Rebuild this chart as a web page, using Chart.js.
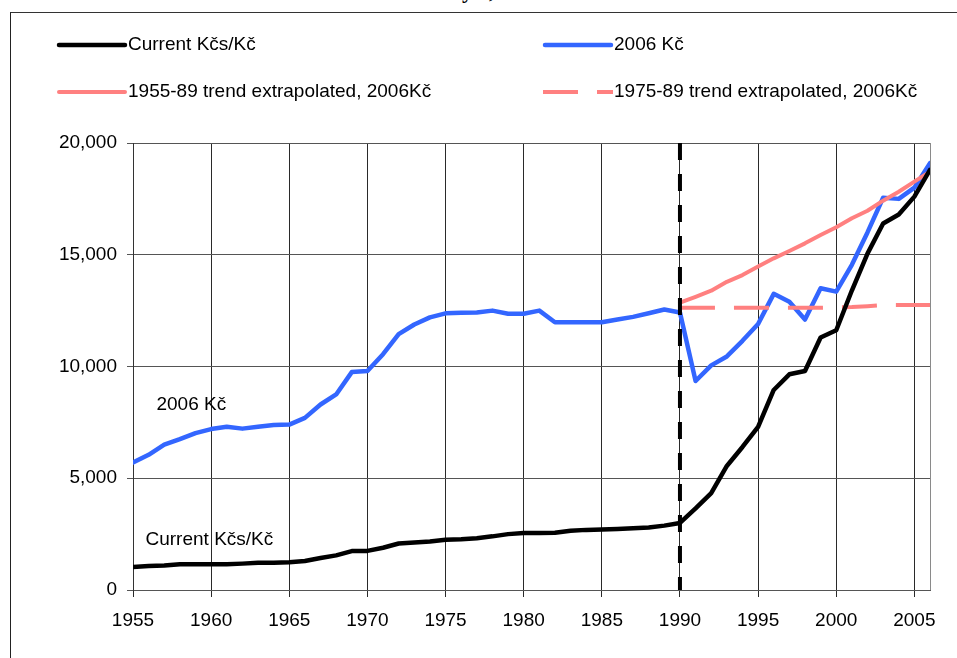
<!DOCTYPE html>
<html>
<head>
<meta charset="utf-8">
<script src="https://cdn.jsdelivr.net/npm/chart.js@4.4.0/dist/chart.umd.min.js"></script>
<style>
  html, body { margin: 0; padding: 0; background: #fff; overflow: hidden; }
  #wrap { position: relative; width: 957px; height: 658px; overflow: hidden; }
  #frame { position: absolute; left: 10px; top: 12px; width: 1200px; height: 900px;
           border-left: 1px solid #222; border-top: 1px solid #333; }
  #cut { position: absolute; left: 462px; top: -20px; font: bold 22px "Liberation Serif", serif;
         line-height: 22px; color: #000; white-space: pre; }
  canvas { position: absolute; left: 0; top: 0; }
</style>
</head>
<body>
<div id="wrap">
  <div id="frame"></div>
  <div id="cut">y<span style="margin-left:16px">,</span></div>
  <canvas id="wageChart" width="957" height="658"></canvas>
</div>
<script>
// years on the x axis
const years = [1955, 1956, 1957, 1958, 1959, 1960, 1961, 1962, 1963, 1964,
               1965, 1966, 1967, 1968, 1969, 1970, 1971, 1972, 1973, 1974,
               1975, 1976, 1977, 1978, 1979, 1980, 1981, 1982, 1983, 1984,
               1985, 1986, 1987, 1988, 1989, 1990, 1991, 1992, 1993, 1994,
               1995, 1996, 1997, 1998, 1999, 2000, 2001, 2002, 2003, 2004,
               2005, 2006];

// wage in current Kčs/Kč
const currentKcs = [1030, 1070, 1100, 1150, 1150, 1150, 1150, 1180, 1220, 1220,
                    1240, 1300, 1430, 1550, 1740, 1750, 1890, 2080, 2120, 2170,
                    2250, 2270, 2320, 2400, 2500, 2550, 2550, 2560, 2650, 2690,
                    2710, 2730, 2760, 2800, 2880, 3000, 3650, 4330, 5550, 6400,
                    7300, 8950, 9650, 9800, 11300, 11620, 13400, 15050, 16400, 16800,
                    17600, 18800];

// wage in 2006 Kč
const real2006 = [5700, 6050, 6500, 6750, 7020, 7200, 7300, 7220, 7300, 7380,
                  7400, 7700, 8300, 8750, 9750, 9800, 10550, 11450, 11880, 12200,
                  12380, 12400, 12420, 12500, 12360, 12360, 12500, 11980, 11980, 11980,
                  11980, 12100, 12220, 12380, 12550, 12420, 9350, 10050, 10450, 11150,
                  11900, 13250, 12900, 12100, 13500, 13350, 14550, 16000, 17550, 17500,
                  18000, 19100];

// extrapolated trends, 1990-2006
const trendYears = [1990, 1991, 1992, 1993, 1994, 1995, 1996, 1997, 1998,
                    1999, 2000, 2001, 2002, 2003, 2004, 2005, 2006];
const trend5589 = [12860, 13120, 13390, 13790, 14090, 14470, 14840, 15170, 15510,
                   15880, 16230, 16630, 16970, 17420, 17820, 18270, 18720];
const trend7589 = [12630, 12630, 12630, 12630, 12630, 12630, 12630, 12630, 12630,
                   12630, 12640, 12660, 12700, 12750, 12750, 12750, 12750];

// 1989 break marker
const markerYears = [1990, 1990];
const markerValues = [20000, 0];

// text written inside the plot
const seriesNotes = [
  { text: '2006 Kč', year: 1956.5, value: 8280 },
  { text: 'Current Kčs/Kč', year: 1955.8, value: 2240 }
];

const xTicks = [1955, 1960, 1965, 1970, 1975, 1980, 1985, 1990, 1995, 2000, 2005];

function toPoints(xs, ys) {
  return xs.map((x, i) => ({ x: x, y: ys[i] }));
}

const FONT = '"Liberation Sans", Arial, sans-serif';
Chart.defaults.font.family = FONT;
Chart.defaults.font.size = 19;
Chart.defaults.color = '#000';

// legend in two columns above the plot
const legendOrder = [0, 4, 2, 3];
const gridLegend = {
  id: 'gridLegend',
  afterDraw(chart) {
    const ctx = chart.ctx;
    const cols = [57, 543];
    const rows = [45, 92];
    legendOrder.forEach((dsIndex, i) => {
      const ds = chart.data.datasets[dsIndex];
      const x = cols[i % 2];
      const y = rows[Math.floor(i / 2)];
      ctx.save();
      ctx.strokeStyle = ds.borderColor;
      ctx.lineWidth = ds.borderWidth;
      if (ds.borderDash) {
        ctx.setLineDash(ds.borderDash);
        ctx.lineCap = 'butt';
        ctx.beginPath(); ctx.moveTo(x, y); ctx.lineTo(x + 70, y); ctx.stroke();
      } else {
        ctx.lineCap = 'round';
        ctx.beginPath(); ctx.moveTo(x + 2, y); ctx.lineTo(x + 68, y); ctx.stroke();
      }
      ctx.setLineDash([]);
      ctx.fillStyle = '#000';
      ctx.font = '19px ' + FONT;
      ctx.textBaseline = 'middle';
      ctx.textAlign = 'left';
      ctx.fillText(ds.label, x + 71, y);
      ctx.restore();
    });
  }
};

const noteLabels = {
  id: 'noteLabels',
  afterDatasetsDraw(chart) {
    const ctx = chart.ctx;
    const xs = chart.scales.x, ys = chart.scales.y;
    ctx.save();
    ctx.fillStyle = '#000';
    ctx.font = '19px ' + FONT;
    ctx.textBaseline = 'middle';
    ctx.textAlign = 'left';
    seriesNotes.forEach(n => {
      ctx.fillText(n.text, xs.getPixelForValue(n.year), ys.getPixelForValue(n.value));
    });
    ctx.restore();
  }
};

new Chart(document.getElementById('wageChart'), {
  type: 'line',
  data: {
    datasets: [
      {
        label: 'Current Kčs/Kč',
        data: toPoints(years, currentKcs),
        borderColor: '#000000',
        borderWidth: 4.5
      },
      {
        label: '1989',
        data: toPoints(markerYears, markerValues),
        borderColor: '#000000',
        borderWidth: 4,
        borderDash: [17, 14],
        borderCapStyle: 'butt'
      },
      {
        label: '1955-89 trend extrapolated, 2006Kč',
        data: toPoints(trendYears, trend5589),
        borderColor: '#ff8080',
        borderWidth: 4
      },
      {
        label: '1975-89 trend extrapolated, 2006Kč',
        data: toPoints(trendYears, trend7589),
        borderColor: '#ff8080',
        borderWidth: 4,
        borderDash: [35, 19],
        borderCapStyle: 'butt'
      },
      {
        label: '2006 Kč',
        data: toPoints(years, real2006),
        borderColor: '#3366ff',
        borderWidth: 4.5
      }
    ]
  },
  options: {
    responsive: false,
    animation: false,
    layout: { padding: { top: 143, right: 27, left: 0, bottom: 0 } },
    plugins: { legend: { display: false }, tooltip: { enabled: false } },
    elements: {
      point: { radius: 0 },
      line: { tension: 0, borderJoinStyle: 'round', borderCapStyle: 'round' }
    },
    scales: {
      x: {
        type: 'linear',
        min: 1955,
        max: 2006,
        afterFit(scale) { scale.height = 68; },
        afterBuildTicks(scale) {
          scale.ticks = xTicks.concat([2006]).map(v => ({ value: v }));
        },
        ticks: {
          autoSkip: false,
          maxRotation: 0,
          padding: 12,
          callback: v => (xTicks.includes(v) ? String(v) : '')
        },
        grid: {
          color: c => (c.tick && c.tick.value === 2006 ? '#8a8a8a' : '#2a2a2a'),
          tickColor: c => (c.tick && c.tick.value === 2006 ? 'rgba(0,0,0,0)' : '#2a2a2a'),
          tickLength: 7,
          lineWidth: 1
        },
        border: { color: '#555', width: 1 }
      },
      y: {
        min: 0,
        max: 20000,
        afterFit(scale) { scale.width = 133; },
        ticks: {
          stepSize: 5000,
          padding: 10,
          callback: v => v.toLocaleString('en-US')
        },
        grid: { color: '#555', tickColor: '#555', tickLength: 6, lineWidth: 1 },
        border: { color: '#333', width: 1 }
      }
    }
  },
  plugins: [gridLegend, noteLabels]
});
</script>
</body>
</html>
